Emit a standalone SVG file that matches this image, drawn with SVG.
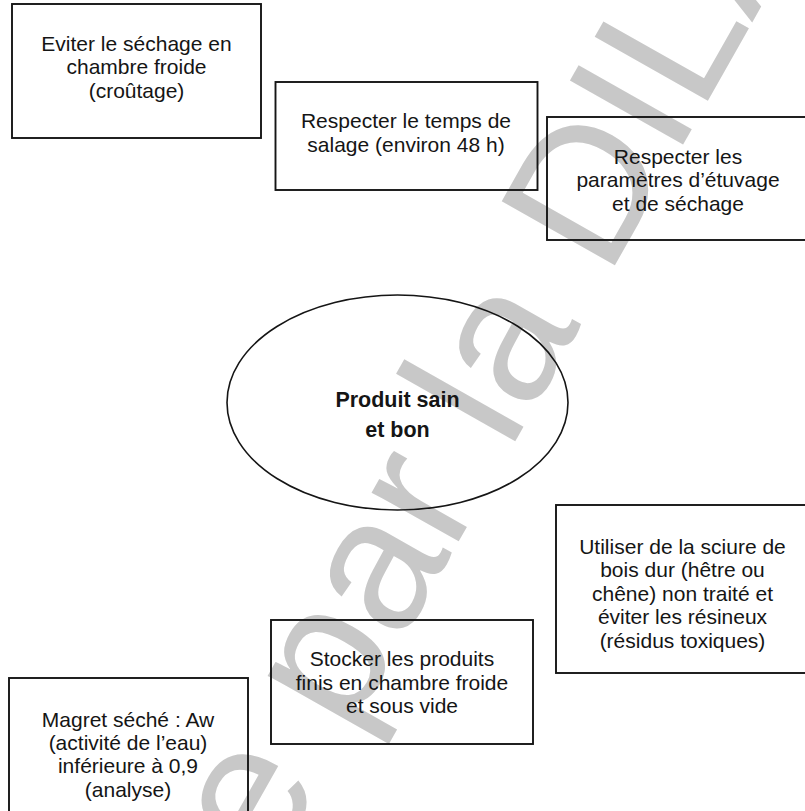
<svg xmlns="http://www.w3.org/2000/svg" width="805" height="811" viewBox="0 0 805 811">
  <style>
    .box { fill: none; stroke: #151515; stroke-width: 1.9; }
    .oval { fill: none; stroke: #151515; stroke-width: 1.6; }
    .lbl { font-family: "Liberation Sans", Arial, sans-serif; font-size: 21px; fill: #151515; text-anchor: middle; }
    .main { font-family: "Liberation Sans", Arial, sans-serif; font-size: 21.5px; font-weight: bold; fill: #151515; text-anchor: middle; }
    .wm { font-family: "Liberation Sans", Arial, sans-serif; font-size: 189px; fill: #c8c8c8; }
  </style>
  <rect width="805" height="811" fill="#ffffff"/>

  <!-- diagonal watermark, behind the content -->
  <g id="watermark" transform="translate(271,873) rotate(-60.5)">
    <text class="wm" x="0" y="0">e par la DILA</text>
  </g>

  <g id="connectors"></g>

  <g id="n-secher">
    <rect class="box" x="12" y="4" width="249" height="134"/>
    <text class="lbl" x="136.5" y="50.5">Eviter le séchage en</text>
    <text class="lbl" x="136.5" y="74">chambre froide</text>
    <text class="lbl" x="136.5" y="97.5">(croûtage)</text>
  </g>

  <g id="n-salage">
    <rect class="box" x="275.5" y="82" width="262" height="108"/>
    <text class="lbl" x="406" y="128">Respecter le temps de</text>
    <text class="lbl" x="406" y="151.5">salage (environ 48 h)</text>
  </g>

  <g id="n-etuvage">
    <rect class="box" x="547" y="117" width="265" height="123"/>
    <text class="lbl" x="678" y="163.5">Respecter les</text>
    <text class="lbl" x="678" y="187">paramètres d’étuvage</text>
    <text class="lbl" x="678" y="210.5">et de séchage</text>
  </g>

  <g id="n-produit">
    <ellipse class="oval" cx="397.5" cy="402.5" rx="170.5" ry="107.5"/>
    <text class="main" x="397.5" y="407">Produit sain</text>
    <text class="main" x="397.5" y="437">et bon</text>
  </g>

  <g id="n-sciure">
    <rect class="box" x="556" y="505" width="256" height="168"/>
    <text class="lbl" x="682.5" y="553.5">Utiliser de la sciure de</text>
    <text class="lbl" x="682.5" y="577">bois dur (hêtre ou</text>
    <text class="lbl" x="682.5" y="600.5">chêne) non traité et</text>
    <text class="lbl" x="682.5" y="624">éviter les résineux</text>
    <text class="lbl" x="682.5" y="647.5">(résidus toxiques)</text>
  </g>

  <g id="n-stocker">
    <rect class="box" x="271" y="620" width="262" height="124"/>
    <text class="lbl" x="402" y="666">Stocker les produits</text>
    <text class="lbl" x="402" y="689.5">finis en chambre froide</text>
    <text class="lbl" x="402" y="713">et sous vide</text>
  </g>

  <g id="n-magret">
    <rect class="box" x="9" y="678" width="239" height="150"/>
    <text class="lbl" x="128" y="726.5">Magret séché : Aw</text>
    <text class="lbl" x="128" y="749.5">(activité de l’eau)</text>
    <text class="lbl" x="128" y="773">inférieure à 0,9</text>
    <text class="lbl" x="128" y="796.5">(analyse)</text>
  </g>
</svg>
